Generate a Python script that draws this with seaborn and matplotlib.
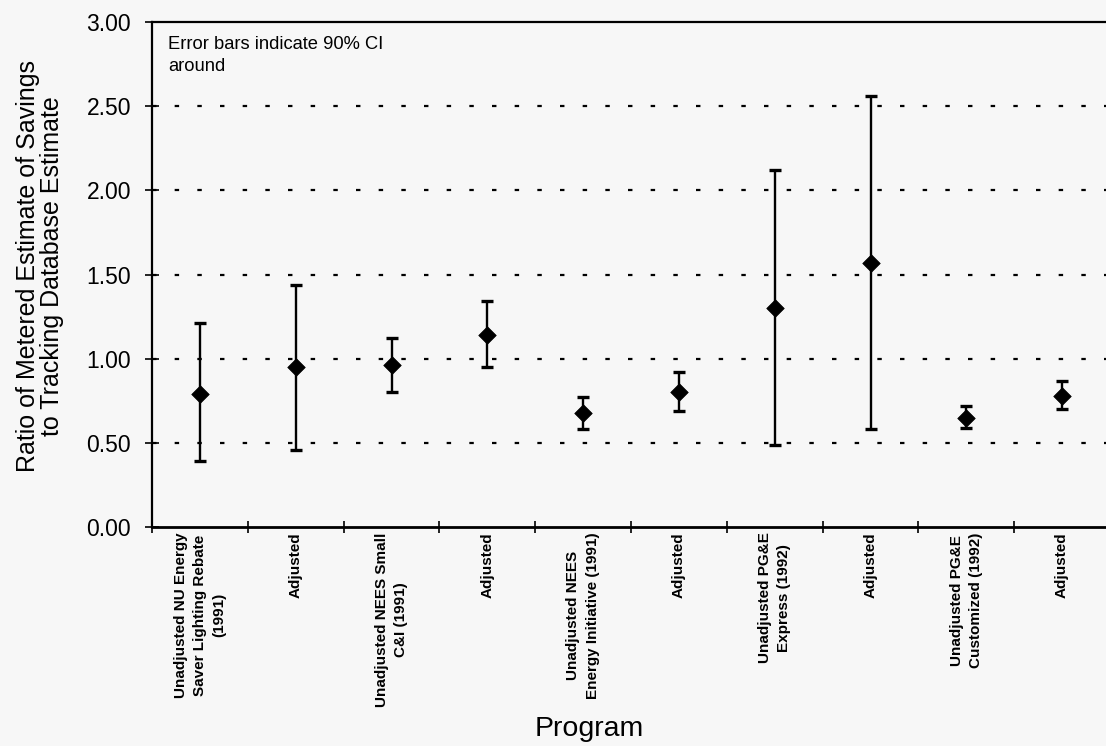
import numpy as np
import pandas as pd
import matplotlib
matplotlib.use("Agg")
import matplotlib.pyplot as plt
import seaborn as sns

# ---- data ----
categories = [
    "Unadjusted NU Energy\nSaver Lighting Rebate\n(1991)",
    "Adjusted",
    "Unadjusted NEES Small\nC&I (1991)",
    "Adjusted",
    "Unadjusted NEES\nEnergy Initiative (1991)",
    "Adjusted",
    "Unadjusted PG&E\nExpress (1992)",
    "Adjusted",
    "Unadjusted PG&E\nCustomized (1992)",
    "Adjusted",
]
ratio = [0.79, 0.95, 0.96, 1.14, 0.675, 0.80, 1.30, 1.57, 0.65, 0.78]
upper = [1.21, 1.44, 1.12, 1.34, 0.77, 0.92, 2.12, 2.56, 0.72, 0.87]
lower = [0.39, 0.46, 0.80, 0.95, 0.58, 0.69, 0.49, 0.58, 0.59, 0.70]
yticks = [0.0, 0.5, 1.0, 1.5, 2.0, 2.5, 3.0]
note = "Error bars indicate 90% CI\naround"

sns.set_theme(style="white")
plt.rcParams['font.family'] = ['Liberation Sans', 'DejaVu Sans']
plt.rcParams.update({"text.color": "black", "axes.labelcolor": "black",
                     "xtick.color": "black", "ytick.color": "black"})

bg = "#f7f7f7"
fig = plt.figure(figsize=(11.06, 7.46), dpi=100, facecolor=bg)
W, H = 1106, 746
x0, x1, ytop, ybot = 152, 1110, 22, 527
ax = fig.add_axes([x0 / W, 1 - ybot / H, (x1 - x0) / W, (ybot - ytop) / H])
ax.set_facecolor(bg)

pos = np.arange(len(categories))
df = pd.DataFrame({"pos": pos, "ratio": ratio, "upper": upper, "lower": lower})

# grid lines (dotted)
for yv in yticks[1:-1]:
    ax.axhline(yv, color="black", lw=1.6, linestyle=(0, (2, 8.2)), zorder=1)

# error bars
yerr = np.vstack([df["ratio"] - df["lower"], df["upper"] - df["ratio"]])
ax.errorbar(df["pos"], df["ratio"], yerr=yerr, fmt="none", ecolor="black",
            elinewidth=1.7, capsize=4.5, capthick=2.4, zorder=3)
# diamonds
sns.scatterplot(data=df, x="pos", y="ratio", marker="D", s=80, color="black",
                edgecolor="black", linewidth=0.5, ax=ax, zorder=4, legend=False)

ax.set_xlim(-0.5, len(categories) - 0.5)
ax.set_ylim(0, 3.0)

# y axis
ax.set_yticks(yticks)
ax.set_yticklabels([f"{v:.2f}" for v in yticks], fontsize=16.5)
ax.tick_params(axis="y", direction="inout", length=10, width=1.2, pad=10, left=True,
               colors="black")

# x axis: ticks at boundaries, labels at centres
ax.set_xticks(np.arange(-0.5, len(categories), 1.0))
ax.set_xticklabels([])
ax.set_xticks(pos, minor=True)
ax.set_xticklabels(categories, minor=True, rotation=90, fontsize=11,
                   fontweight="bold", linespacing=1.48, ha="center", va="top",
                   multialignment="center")
ax.tick_params(axis="x", which="major", direction="inout", length=8, width=1.2,
               bottom=True, colors="black")
ax.tick_params(axis="x", which="minor", length=0, pad=4, bottom=True, colors="black")

for side in ["left", "top", "bottom"]:
    ax.spines[side].set_visible(True)
    ax.spines[side].set_color("black")
ax.spines["left"].set_linewidth(1.6)
ax.spines["top"].set_linewidth(1.6)
ax.spines["bottom"].set_linewidth(2.0)
ax.spines["right"].set_visible(False)

ax.set_ylabel("Ratio of Metered Estimate of Savings\nto Tracking Database Estimate",
              fontsize=18, linespacing=1.0, color="black")
ax.yaxis.set_label_coords((64 - x0) / (x1 - x0), (ybot - 266) / (ybot - ytop))
ax.set_xlabel("Program", fontsize=20.5, color="black")
ax.xaxis.set_label_coords((589 - x0) / (x1 - x0), (ybot - 716) / (ybot - ytop))

ax.text((168 - x0) / (x1 - x0), (ybot - 36) / (ybot - ytop), note,
        transform=ax.transAxes, fontsize=13.2, va="top", ha="left",
        linespacing=1.4, color="black")

fig.savefig("out.png", dpi=100, facecolor=bg)
